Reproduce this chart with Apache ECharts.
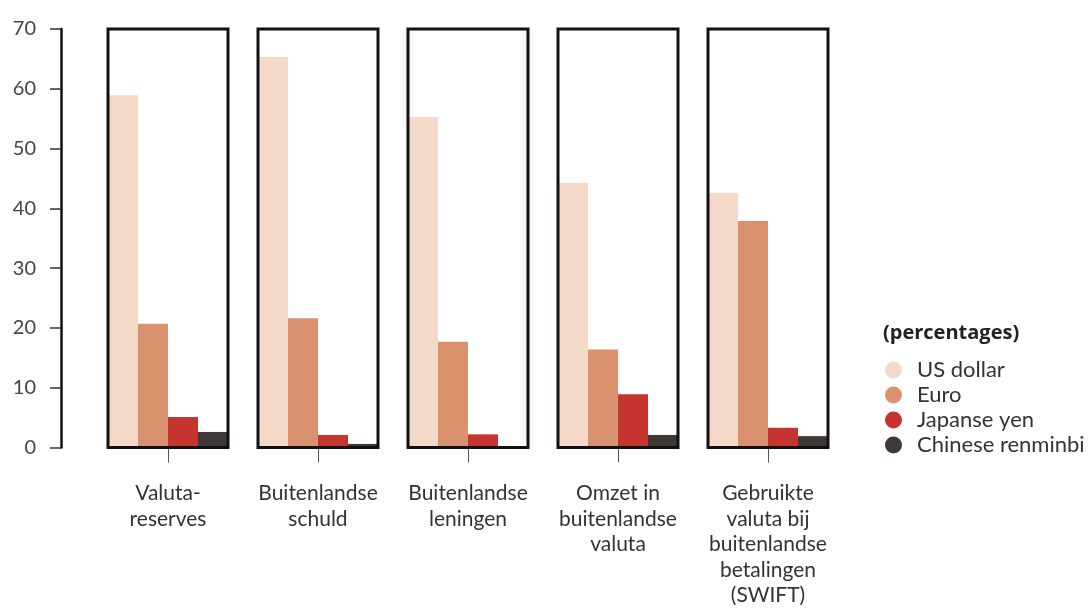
<!DOCTYPE html>
<html>
<head>
<meta charset="utf-8">
<script src="https://cdn.jsdelivr.net/npm/echarts@6/dist/echarts.min.js"></script>
<style>html,body{margin:0;padding:0;background:#fff}#c{width:1090px;height:608px}</style>
</head>
<body>
<div id="c"></div>
<script>
const categories = ["Valuta-\nreserves", "Buitenlandse\nschuld", "Buitenlandse\nleningen", "Omzet in\nbuitenlandse\nvaluta", "Gebruikte\nvaluta bij\nbuitenlandse\nbetalingen\n(SWIFT)"];
const usDollar = [58.9, 65.3, 55.3, 44.3, 42.6];
const euro = [20.7, 21.6, 17.7, 16.4, 37.9];
const japanseYen = [5.1, 2.1, 2.2, 8.9, 3.3];
const chineseRenminbi = [2.6, 0.6, 0, 2.1, 1.9];
const yTicks = [0, 10, 20, 30, 40, 50, 60, 70];
const seriesNames = ["US dollar", "Euro", "Japanse yen", "Chinese renminbi"];
const colors = ["#f4d9c8", "#da916e", "#c6342f", "#3e3936"];
const YMAX = 70;

const font = "Lato, 'Noto Sans', sans-serif";
const chart = echarts.init(document.getElementById('c'), null, {renderer: 'canvas'});
const values = [usDollar, euro, japanseYen, chineseRenminbi];

const barSeries = seriesNames.map((n, i) => ({
  name: n, type: 'bar', data: values[i],
  itemStyle: {color: colors[i]},
  barGap: '0%', barCategoryGap: '20%', z: 2
}));

chart.setOption({
  animation: false,
  textStyle: {fontFamily: font},
  title: {
    text: '(percentages)', left: 878, top: 318,
    textStyle: {fontFamily: "'Open Sans', Lato, sans-serif", fontSize: 20, fontWeight: 'bold', color: '#222'}
  },
  legend: {
    data: seriesNames, orient: 'vertical', left: 880, top: 354,
    icon: 'circle', itemWidth: 17, itemHeight: 17, itemGap: 3,
    textStyle: {fontFamily: font, fontSize: 22, lineHeight: 22, color: '#333', padding: [0, 0, 0, 10]}
  },
  grid: {left: 93, right: 247, top: 29, bottom: 159},
  xAxis: {
    type: 'category', data: categories,
    axisLine: {show: false},
    axisTick: {show: true, alignWithLabel: true, length: 15, lineStyle: {color: '#555', width: 1}},
    axisLabel: {margin: 33, fontSize: 21, lineHeight: 25.5, color: '#333', fontFamily: font, interval: 0, verticalAlign: 'top'}
  },
  yAxis: {
    type: 'value', min: yTicks[0], max: yTicks[yTicks.length-1], interval: 10,
    offset: 32,
    axisLine: {show: true, lineStyle: {color: '#111', width: 2.5}},
    axisTick: {show: true, length: 11, lineStyle: {color: '#333', width: 1.5}},
    splitLine: {show: false},
    axisLabel: {margin: 25, fontSize: 20, color: '#444', fontFamily: font, padding: [0, 0, 4, 0]}
  },
  series: barSeries.concat([{
    name: 'frame', type: 'custom', z: 5, clip: false, silent: true,
    data: categories.map((c, i) => [i, YMAX]),
    renderItem: function (params, api) {
      const top = api.coord([api.value(0), api.value(1)]);
      const bot = api.coord([api.value(0), 0]);
      const w = api.size([1, 0])[0] * 0.8;
      return {
        type: 'rect',
        shape: {x: top[0] - w / 2, y: top[1], width: w, height: bot[1] - top[1]},
        style: {fill: 'none', stroke: '#111', lineWidth: 3}
      };
    }
  }])
});
</script>
</body>
</html>
